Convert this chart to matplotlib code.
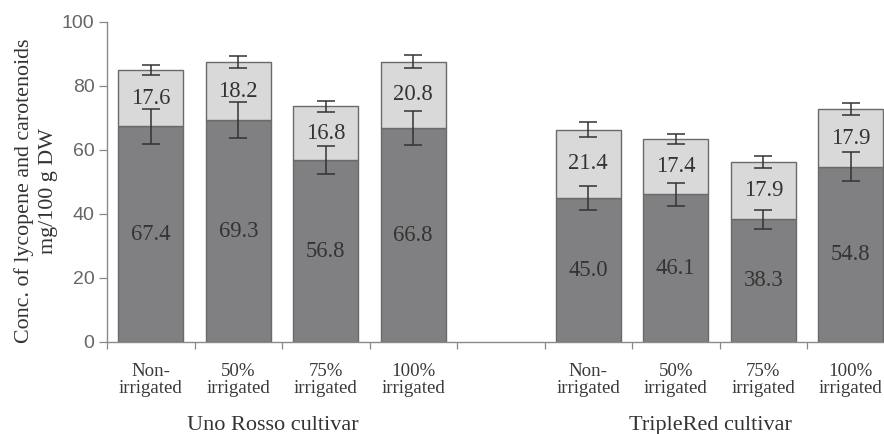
import matplotlib
matplotlib.use("Agg")
import matplotlib.pyplot as plt
import numpy as np

# Treatments and cultivars
treatments = ["Non-\nirrigated", "50%\nirrigated", "75%\nirrigated", "100%\nirrigated"]
cultivars = ["Uno Rosso cultivar", "TripleRed cultivar"]

# Lycopene (lower, dark) and other carotenoids (upper, light), mg/100 g DW
lycopene_uno = [67.4, 69.3, 56.8, 66.8]
carot_uno = [17.6, 18.2, 16.8, 20.8]
lycopene_tr = [45.0, 46.1, 38.3, 54.8]
carot_tr = [21.4, 17.4, 17.9, 17.9]

# Standard deviations
lyc_err_uno = [5.5, 5.7, 4.4, 5.3]
tot_err_uno = [1.7, 1.8, 1.8, 2.0]
lyc_err_tr = [3.6, 3.7, 3.0, 4.6]
tot_err_tr = [2.2, 1.5, 1.8, 1.9]

yticks = [0, 20, 40, 60, 80, 100]

DARK = "#808082"
LIGHT = "#d9d9d9"
EDGE = "#6a6a6a"
TXT = "#333333"
SERIF = ["Liberation Serif", "DejaVu Serif"]
SANS = ["Liberation Sans", "DejaVu Sans"]

W, H = 884, 434
fig = plt.figure(figsize=(W / 100, H / 100), dpi=100)
left_px, right_px, bottom_px, top_px = 107, 894.5, 342, 22
ax = fig.add_axes([left_px / W, 1 - bottom_px / H,
                   (right_px - left_px) / W, (bottom_px - top_px) / H])

pos_uno = np.arange(4)
pos_tr = np.arange(4) + 5
positions = np.concatenate([pos_uno, pos_tr])
lyc = np.array(lycopene_uno + lycopene_tr)
car = np.array(carot_uno + carot_tr)
lerr = np.array(lyc_err_uno + lyc_err_tr)
terr = np.array(tot_err_uno + tot_err_tr)
total = lyc + car

bw = 0.74
ax.bar(positions, lyc, width=bw, color=DARK, edgecolor=EDGE, linewidth=1.0, zorder=2)
ax.bar(positions, car, bottom=lyc, width=bw, color=LIGHT, edgecolor=EDGE,
       linewidth=1.0, zorder=2)

ax.errorbar(positions, lyc, yerr=lerr, fmt="none", ecolor=TXT, elinewidth=1.1,
            capsize=6.5, capthick=1.1, zorder=3)
ax.errorbar(positions, total, yerr=terr, fmt="none", ecolor=TXT, elinewidth=1.1,
            capsize=6.5, capthick=1.1, zorder=3)

for x, l, c in zip(positions, lyc, car):
    ax.text(x, l / 2, f"{l:.1f}", ha="center", va="center",
            fontsize=16.3, family=SERIF, color=TXT, zorder=4)
    ax.text(x, l + c / 2, f"{c:.1f}", ha="center", va="center",
            fontsize=16.3, family=SERIF, color=TXT, zorder=4)

ax.set_xlim(-0.5, 8.5)
ax.set_ylim(0, 100)

# Major ticks at slot boundaries (marks only), minor ticks for labels
ax.set_xticks(np.arange(-0.5, 9.0, 1.0))
ax.set_xticklabels([])
ax.set_xticks(positions, minor=True)
ax.set_xticklabels(treatments * 2, minor=True, family=SERIF, fontsize=13.6,
                   color="#3a3a3a", linespacing=1.0)
ax.tick_params(axis="x", which="major", direction="out", length=5, width=0.9,
               color="#888888")
ax.tick_params(axis="x", which="minor", length=0, pad=15)

ax.set_yticks(yticks)
ax.set_yticklabels([str(v) for v in yticks], family=SANS, fontsize=14,
                   color="#666666")
ax.tick_params(axis="y", direction="out", length=6, width=0.9, color="#888888",
               pad=3)

for s in ["top", "right"]:
    ax.spines[s].set_visible(False)
for s in ["left", "bottom"]:
    ax.spines[s].set_color("#8a8a8a")
    ax.spines[s].set_linewidth(1.0)

# Axis title (two lines)
fig.text(24 / W, 1 - 191 / H, "Conc. of lycopene and carotenoids",
         rotation=90, ha="center", va="center", family=SERIF, fontsize=15.8,
         color=TXT)
fig.text(49 / W, 1 - 191 / H, "mg/100 g DW",
         rotation=90, ha="center", va="center", family=SERIF, fontsize=15.8,
         color=TXT)

# Cultivar group labels
trans = ax.get_xaxis_transform()
for grp, name in zip([pos_uno, pos_tr], cultivars):
    ax.text(grp.mean() - 0.1, -0.262, name, transform=trans, ha="center",
            va="center", family=SERIF, fontsize=16, color=TXT)

fig.savefig("out.png", dpi=100)
